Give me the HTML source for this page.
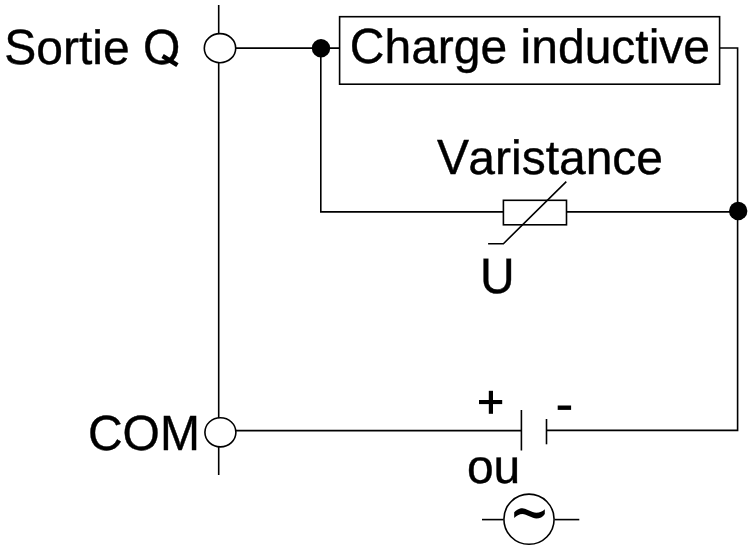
<!DOCTYPE html>
<html>
<head>
<meta charset="utf-8">
<title>Schema</title>
<style>
html,body{margin:0;padding:0;background:#fff;}
body{width:750px;height:558px;overflow:hidden;}
svg{display:block;}
text{font-family:"Liberation Sans",sans-serif;font-size:48px;fill:#000;stroke:#000;stroke-width:0.4px;text-rendering:geometricPrecision;}
.l{stroke:#000;stroke-width:1.6;fill:none;stroke-linecap:butt;}
.w{stroke:#000;stroke-width:1.6;fill:#fff;}
.h{fill:none;stroke:none;}
</style>
</head>
<body>
<svg width="750" height="558" viewBox="0 0 750 558">
<rect x="0" y="0" width="750" height="558" fill="#fff"/>
<!-- left bus -->
<line class="l" x1="218.7" y1="5" x2="218.7" y2="475"/>
<!-- top wire -->
<line class="l" x1="230" y1="48.1" x2="339.6" y2="48.1"/>
<ellipse class="w" cx="220" cy="48.15" rx="15.7" ry="14.55"/>
<!-- load box -->
<rect class="l" x="339.6" y="16.7" width="380" height="67.5"/>
<polyline class="l" points="719.6,48 737.6,48 737.6,430.4 546.5,430.4"/>
<!-- varistor branch -->
<polyline class="l" points="320.8,48 320.8,211.9 503.4,211.9"/>
<line class="l" x1="566.5" y1="211.9" x2="737.6" y2="211.9"/>
<rect class="l" x="503.4" y="200.3" width="63.1" height="24.5"/>
<polyline class="l" points="566.3,181.6 503.4,243.7 488.1,243.7"/>
<circle cx="321" cy="48.2" r="9.2" fill="#000"/>
<circle cx="738.2" cy="211" r="9.2" fill="#000"/>
<!-- bottom wire -->
<line class="l" x1="230" y1="430.6" x2="521.4" y2="430.6"/>
<ellipse class="w" cx="220.4" cy="432.3" rx="15.5" ry="14.6"/>
<line class="l" x1="521.4" y1="410" x2="521.4" y2="450.5"/>
<line class="l" x1="546.5" y1="419" x2="546.5" y2="444.3"/>
<!-- AC source -->
<line class="l" x1="482" y1="519.6" x2="503.3" y2="519.6"/>
<line class="l" x1="554.8" y1="519.6" x2="579.3" y2="519.6"/>
<circle class="l" cx="529" cy="519.2" r="25.1"/>
<!-- texts: lower-case flow (capitals hidden, drawn separately stretched) -->
<g transform="translate(4.2,63.6) scale(1,1.0005)"><text x="0" y="0"><tspan class="h">S</tspan>ortie <tspan class="h">O</tspan></text></g>
<g transform="translate(4.2,63.6) scale(1,1.03)"><text x="0" y="0">S<tspan class="h">ortie </tspan>O</text></g>
<line x1="162.6" y1="56" x2="177.4" y2="65.1" stroke="#000" stroke-width="4.5"/>
<g transform="translate(349.8,63) scale(1,1.0005)"><text x="0" y="0"><tspan class="h">C</tspan>harge inductive</text></g>
<g transform="translate(349.8,63) scale(1,1.03)"><text x="0" y="0">C</text></g>
<g transform="translate(468.3,174.3) scale(1,1.0005)"><text x="0" y="0">aristance</text></g>
<g transform="translate(437,174.3) scale(1,1.03)"><text x="0" y="0">V</text></g>
<g transform="translate(479.9,293.3) scale(1,1.04)"><text x="0" y="0">U</text></g>
<g transform="translate(87.9,449.7) scale(1,1.03)"><text x="0" y="0">COM</text></g>
<g transform="translate(466.9,482.9) scale(1,1.0005)"><text x="0" y="0">ou</text></g>
<!-- plus / minus -->
<rect x="479" y="400" width="23.2" height="4.1" fill="#000"/>
<rect x="488.8" y="390.8" width="4.2" height="23" fill="#000"/>
<rect x="557.7" y="405.5" width="13.4" height="4.4" fill="#000"/>
<g transform="translate(505,498) scale(0.0666667)"><path fill="#000" d="M138,300 L138,215 C165,180 215,155 260,155 C320,155 400,222 470,222 C520,222 565,200 597,168 L597,240 C570,285 520,308 470,308 C410,308 320,240 262,240 C215,240 170,268 138,300 Z"/></g>
</svg>
</body>
</html>
